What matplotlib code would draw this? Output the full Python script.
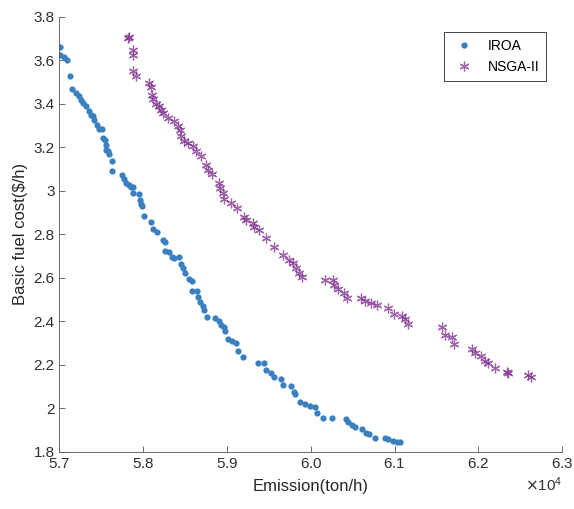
import numpy as np
import matplotlib.pyplot as plt
from matplotlib.ticker import ScalarFormatter

plt.rcParams['font.family'] = ['Liberation Sans', 'DejaVu Sans']

# IROA pareto front (emission in ton/h, fuel cost in $/h)
iroa_emission = np.array([
    5.7008, 5.7010, 5.7050, 5.7092, 5.7130, 5.7152, 5.7203, 5.7231, 5.7261, 5.7281,
    5.7313, 5.7353, 5.7374, 5.7402, 5.7414, 5.7446, 5.7475, 5.7506, 5.7515, 5.7543,
    5.7556, 5.7556, 5.7584, 5.7596, 5.7625, 5.7625, 5.7749, 5.7770, 5.7797, 5.7825,
    5.7857, 5.7878, 5.7878, 5.7944, 5.7956, 5.7977, 5.7989, 5.8004, 5.8096, 5.8116,
    5.8168, 5.8236, 5.8255, 5.8263, 5.8302, 5.8346, 5.8366, 5.8425, 5.8453, 5.8480,
    5.8504, 5.8551, 5.8583, 5.8583, 5.8639, 5.8651, 5.8682, 5.8710, 5.8729, 5.8761,
    5.8856, 5.8907, 5.8927, 5.8966, 5.8975, 5.9014, 5.9058, 5.9105, 5.9133, 5.9185,
    5.9370, 5.9441, 5.9461, 5.9529, 5.9560, 5.9639, 5.9671, 5.9758, 5.9797, 5.9817,
    5.9868, 5.9936, 5.9995, 6.0046, 6.0074, 6.0146, 6.0252, 6.0422, 6.0449, 6.0489,
    6.0528, 6.0615, 6.0659, 6.0698, 6.0766, 6.0884, 6.0923, 6.0976, 6.1023, 6.1062,
]) * 1e4
iroa_cost = np.array([
    3.659, 3.625, 3.615, 3.602, 3.530, 3.469, 3.452, 3.434, 3.418, 3.406,
    3.391, 3.369, 3.349, 3.342, 3.326, 3.303, 3.285, 3.284, 3.242, 3.234,
    3.211, 3.188, 3.181, 3.170, 3.135, 3.093, 3.074, 3.055, 3.035, 3.028,
    3.020, 3.017, 2.989, 2.986, 2.959, 2.940, 2.931, 2.886, 2.859, 2.824,
    2.810, 2.775, 2.764, 2.724, 2.721, 2.698, 2.691, 2.695, 2.663, 2.647,
    2.624, 2.594, 2.586, 2.542, 2.542, 2.514, 2.488, 2.471, 2.453, 2.422,
    2.415, 2.402, 2.384, 2.376, 2.356, 2.318, 2.310, 2.303, 2.264, 2.238,
    2.208, 2.208, 2.177, 2.165, 2.146, 2.134, 2.108, 2.105, 2.077, 2.065,
    2.031, 2.021, 2.012, 2.008, 1.978, 1.958, 1.955, 1.952, 1.939, 1.924,
    1.916, 1.904, 1.889, 1.881, 1.866, 1.866, 1.858, 1.851, 1.845, 1.846,
])

# NSGA-II pareto front
nsga_emission = np.array([
    5.7825, 5.7813, 5.7877, 5.7877, 5.7877, 5.7917, 5.8075, 5.8095, 5.8102, 5.8122,
    5.8154, 5.8185, 5.8214, 5.8233, 5.8292, 5.8372, 5.8420, 5.8440, 5.8452, 5.8491,
    5.8531, 5.8590, 5.8631, 5.8691, 5.8751, 5.8778, 5.8817, 5.8901, 5.8918, 5.8949,
    5.8969, 5.9049, 5.9116, 5.9199, 5.9228, 5.9307, 5.9327, 5.9378, 5.9466, 5.9565,
    5.9664, 5.9744, 5.9783, 5.9824, 5.9855, 5.9895, 6.0172, 6.0259, 6.0279, 6.0324,
    6.0398, 6.0430, 6.0600, 6.0651, 6.0715, 6.0793, 6.0921, 6.0998, 6.1090, 6.1122,
    6.1161, 6.1565, 6.1605, 6.1684, 6.1704, 6.1929, 6.1961, 6.2028, 6.2080, 6.2111,
    6.2199, 6.2337, 6.2349, 6.2594, 6.2633,
]) * 1e4
nsga_cost = np.array([
    3.705, 3.701, 3.648, 3.625, 3.553, 3.529, 3.498, 3.477, 3.441, 3.422,
    3.399, 3.388, 3.372, 3.357, 3.334, 3.319, 3.300, 3.280, 3.253, 3.227,
    3.219, 3.207, 3.181, 3.161, 3.120, 3.097, 3.077, 3.035, 3.012, 2.989,
    2.962, 2.943, 2.920, 2.882, 2.867, 2.854, 2.836, 2.821, 2.783, 2.744,
    2.706, 2.683, 2.668, 2.645, 2.622, 2.606, 2.591, 2.589, 2.568, 2.549,
    2.530, 2.508, 2.506, 2.494, 2.486, 2.474, 2.461, 2.434, 2.425, 2.410,
    2.387, 2.376, 2.338, 2.327, 2.295, 2.274, 2.257, 2.241, 2.218, 2.211,
    2.185, 2.169, 2.162, 2.154, 2.143,
])

xtick_locs = [57000, 58000, 59000, 60000, 61000, 62000, 63000]
ytick_locs = [1.8, 2.0, 2.2, 2.4, 2.6, 2.8, 3.0, 3.2, 3.4, 3.6, 3.8]
ytick_labels = ['1.8', '2', '2.2', '2.4', '2.6', '2.8', '3', '3.2', '3.4', '3.6', '3.8']

fig = plt.figure(figsize=(5.74, 5.09), dpi=100)
ax = fig.add_axes([0.1035, 0.112, 0.876, 0.855])

ax.plot(iroa_emission, iroa_cost, 'o', color='#3a7fc0', markersize=4.5,
        markeredgewidth=0, label='IROA')
ax.plot(nsga_emission, nsga_cost, linestyle='none', marker=(6, 2, 0),
        color='#7e2f8e', alpha=0.75, markersize=7, markeredgewidth=0.9,
        label='NSGA-II')

ax.set_xlim(57000, 63000)
ax.set_ylim(1.8, 3.8)
ax.set_xticks(xtick_locs)
ax.set_yticks(ytick_locs)
ax.set_yticklabels(ytick_labels)

fmt = ScalarFormatter(useMathText=True)
fmt.set_useOffset(False)
fmt.set_powerlimits((0, 0))
ax.xaxis.set_major_formatter(fmt)
ax.xaxis.get_offset_text().set_fontsize(11)
ax.xaxis.get_offset_text().set_color('#404040')

for s in ['top', 'right']:
    ax.spines[s].set_visible(False)
for s in ['left', 'bottom']:
    ax.spines[s].set_color('#555555')
    ax.spines[s].set_linewidth(0.6)

ax.tick_params(direction='in', length=4, width=0.6, color='#555555',
               labelcolor='#303030', labelsize=11)

ax.set_xlabel('Emission(ton/h)', fontsize=12, color='#262626', labelpad=6)
ax.set_ylabel('Basic fuel cost($/h)', fontsize=12, color='#262626', labelpad=4)

leg = ax.legend(loc='upper right', bbox_to_anchor=(0.968, 0.965), fontsize=10,
                fancybox=False, framealpha=1, edgecolor='#262626',
                borderaxespad=0, handletextpad=0.8, borderpad=0.5,
                handlelength=1.8)
leg.get_frame().set_linewidth(0.6)

plt.savefig('out.png', dpi=100)
